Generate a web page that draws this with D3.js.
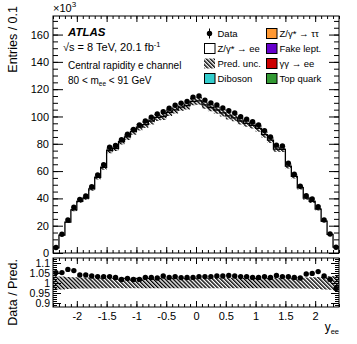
<!DOCTYPE html>
<html lang="en">
<head>
<meta charset="UTF-8">
<title>Central rapidity e channel</title>
<script src="https://d3js.org/d3.v7.min.js"></script>
<style>
    body { margin: 0; background: #fff; }
    svg { display: block; }
    text { font-family: "Liberation Sans", Arial, Helvetica, sans-serif; fill: #000; }
    .axis path { stroke: none; }
    .axis line { stroke: #000; stroke-width: 1; }
    .axis text { font-size: 11px; }
</style>
</head>
<body>
<div id="chart"></div>
<script>
// bin edges: 48 bins of 0.1 between -2.4 and 2.4
const binLow = d3.range(48).map(i => +(-2.4 + i * 0.1).toFixed(1));

// data entries (x10^3)
const dataVals = [4.0, 13.7, 24.2, 33.5, 39.3, 41.8, 48.6, 57.1, 64.7, 77.5, 78.8, 83.0,
    87.0, 90.5, 93.8, 96.7, 99.4, 101.8, 103.5, 106.0, 108.2, 109.8, 111.0, 114.2,
    115.0, 112.0, 110.0, 108.4, 106.2, 104.2, 102.5, 99.8, 98.0, 96.2, 93.8, 89.5,
    85.0, 79.0, 78.4, 65.7, 57.7, 49.0, 42.0, 39.6, 33.9, 24.2, 13.9, 4.2];

// data / prediction
const ratioVals = [1.052, 1.052, 1.068, 1.062, 1.040, 1.040, 1.035, 1.032, 1.032, 1.032, 1.028, 1.018,
    1.023, 1.018, 1.018, 1.028, 1.028, 1.025, 1.035, 1.028, 1.032, 1.027, 1.028, 1.028,
    1.032, 1.032, 1.032, 1.035, 1.035, 1.038, 1.035, 1.032, 1.032, 1.028, 1.028, 1.032,
    1.028, 1.038, 1.032, 1.032, 1.028, 1.025, 1.045, 1.048, 1.057, 1.035, 1.018, 0.973];

// relative prediction uncertainty
const uncVals = [0.034, 0.032, 0.030, 0.029, 0.028, 0.028, 0.027, 0.027, 0.026, 0.026, 0.026, 0.026,
    0.026, 0.026, 0.026, 0.026, 0.026, 0.026, 0.026, 0.026, 0.026, 0.026, 0.026, 0.026,
    0.026, 0.026, 0.026, 0.026, 0.026, 0.026, 0.026, 0.026, 0.026, 0.026, 0.026, 0.026,
    0.026, 0.026, 0.026, 0.027, 0.027, 0.028, 0.028, 0.029, 0.030, 0.032, 0.034, 0.036];

const yTicks = [0, 20, 40, 60, 80, 100, 120, 140, 160];
const rTicks = [0.9, 0.95, 1, 1.05, 1.1];
const xTicks = [-2, -1.5, -1, -0.5, 0, 0.5, 1, 1.5, 2];

const legendLeft = [
    { label: "Data", type: "data" },
    { label: "Z/\u03b3* \u2192 ee", type: "box", color: "#ffffff" },
    { label: "Pred. unc.", type: "hatch" },
    { label: "Diboson", type: "box", color: "#33cccc" }
];
const legendRight = [
    { label: "Z/\u03b3* \u2192 \u03c4\u03c4", color: "#ff9933" },
    { label: "Fake lept.", color: "#6600cc" },
    { label: "\u03b3\u03b3 \u2192 ee", color: "#cc0000" },
    { label: "Top quark", color: "#339933" }
];

const W = 357, H = 344;
const L = 53, R = 339, T = 16, B = 253, RT = 258, RB = 307;

const bins = binLow.map((lo, i) => {
    const pred = dataVals[i] / ratioVals[i];
    return { lo: lo, hi: +(lo + 0.1).toFixed(1), c: lo + 0.05, data: dataVals[i], ratio: ratioVals[i], pred: pred, unc: uncVals[i] };
});

const svg = d3.select("#chart").append("svg").attr("width", W).attr("height", H);

const defs = svg.append("defs");
defs.append("pattern")
    .attr("id", "hatch")
    .attr("patternUnits", "userSpaceOnUse")
    .attr("width", 2.8).attr("height", 2.8)
    .attr("patternTransform", "rotate(-45)")
    .append("line")
    .attr("x1", 0.7).attr("y1", 0).attr("x2", 0.7).attr("y2", 2.8)
    .attr("stroke", "#000").attr("stroke-width", 1.4);

defs.append("clipPath").attr("id", "clipMain")
    .append("rect").attr("x", L).attr("y", T).attr("width", R - L).attr("height", B - T);
defs.append("clipPath").attr("id", "clipRatio")
    .append("rect").attr("x", L).attr("y", RT).attr("width", R - L).attr("height", RB - RT);

const x = d3.scaleLinear().domain([-2.4, 2.4]).range([L, R]);
const y = d3.scaleLinear().domain([0, 173.6]).range([B, T]);
const yr = d3.scaleLinear().domain([0.88, 1.125]).range([RB, RT]);

// step path helper
function stepPts(vals) {
    const pts = [];
    bins.forEach((b, i) => {
        pts.push([x(b.lo), vals[i]]);
        pts.push([x(b.hi), vals[i]]);
    });
    return pts;
}

// ---------- main panel ----------
const main = svg.append("g").attr("clip-path", "url(#clipMain)");

const predPts = stepPts(bins.map(b => y(b.pred)));
const predArea = d3.area().x(d => d[0]).y0(B).y1(d => d[1]);
main.append("path").attr("d", predArea(predPts)).attr("fill", "#fff");

// uncertainty band
const bandPts = bins.flatMap(b => [
    { x: x(b.lo), y0: y(b.pred * (1 - b.unc)), y1: y(b.pred * (1 + b.unc)) },
    { x: x(b.hi), y0: y(b.pred * (1 - b.unc)), y1: y(b.pred * (1 + b.unc)) }
]);
main.append("path")
    .attr("d", d3.area().x(d => d.x).y0(d => d.y0).y1(d => d.y1)(bandPts))
    .attr("fill", "url(#hatch)");

const stepLine = d3.line().x(d => d[0]).y(d => d[1]);
main.append("path")
    .attr("d", stepLine([[x(-2.4), B]].concat(predPts, [[x(2.4), B]])))
    .attr("fill", "none").attr("stroke", "#000").attr("stroke-width", 1.3);

// data points
main.selectAll("line.err").data(bins).enter().append("line")
    .attr("x1", d => x(d.c)).attr("x2", d => x(d.c))
    .attr("y1", d => y(d.data + Math.sqrt(d.data * 1000) / 1000 * 3))
    .attr("y2", d => y(d.data - Math.sqrt(d.data * 1000) / 1000 * 3))
    .attr("stroke", "#000");
main.selectAll("circle.pt").data(bins).enter().append("circle")
    .attr("cx", d => x(d.c)).attr("cy", d => y(d.data)).attr("r", 2.7).attr("fill", "#000");

// ---------- ratio panel ----------
const ratio = svg.append("g").attr("clip-path", "url(#clipRatio)");
const rBand = bins.flatMap(b => [
    { x: x(b.lo), y0: yr(1 - b.unc), y1: yr(1 + b.unc) },
    { x: x(b.hi), y0: yr(1 - b.unc), y1: yr(1 + b.unc) }
]);
ratio.append("path")
    .attr("d", d3.area().x(d => d.x).y0(d => d.y0).y1(d => d.y1)(rBand))
    .attr("fill", "url(#hatch)");
ratio.selectAll("circle").data(bins).enter().append("circle")
    .attr("cx", d => x(d.c)).attr("cy", d => yr(d.ratio)).attr("r", 2.7).attr("fill", "#000");

// ---------- axes ----------
const xMinor = d3.range(-2.4, 2.401, 0.1).map(v => +v.toFixed(1));
const yMinor = d3.range(0, 171, 5);
const rMinor = d3.range(0.89, 1.121, 0.01).map(v => +v.toFixed(2));

function addAxis(axis, tx, ty) {
    return svg.append("g").attr("class", "axis").attr("transform", `translate(${tx},${ty})`).call(axis);
}

// main y
addAxis(d3.axisLeft(y).tickValues(yMinor).tickSize(-5).tickFormat(""), L, 0);
addAxis(d3.axisLeft(y).tickValues(yTicks).tickSize(-10).tickPadding(4).tickFormat(d3.format("d")), L, 0);
addAxis(d3.axisRight(y).tickValues(yMinor).tickSize(-5).tickFormat(""), R, 0);
addAxis(d3.axisRight(y).tickValues(yTicks).tickSize(-10).tickFormat(""), R, 0);
// x ticks on both panels
[[d3.axisTop, T], [d3.axisBottom, B], [d3.axisTop, RT], [d3.axisBottom, RB]].forEach(([ax, pos]) => {
    addAxis(ax(x).tickValues(xMinor).tickSize(-3).tickFormat(""), 0, pos);
    addAxis(ax(x).tickValues(xTicks).tickSize(-6).tickFormat(""), 0, pos);
});
addAxis(d3.axisBottom(x).tickValues(xTicks).tickSize(0).tickPadding(5).tickFormat(d => String(d)), 0, RB);
// ratio y
addAxis(d3.axisLeft(yr).tickValues(rMinor).tickSize(-4).tickFormat(""), L, 0);
addAxis(d3.axisLeft(yr).tickValues(rTicks).tickSize(-8).tickPadding(3).tickFormat(d => String(d)), L, 0)
    .selectAll("text").style("font-size", "10.5px");
addAxis(d3.axisRight(yr).tickValues(rMinor).tickSize(-4).tickFormat(""), R, 0);
addAxis(d3.axisRight(yr).tickValues(rTicks).tickSize(-8).tickFormat(""), R, 0);

// frames
svg.append("rect").attr("x", L).attr("y", T).attr("width", R - L).attr("height", B - T)
    .attr("fill", "none").attr("stroke", "#000");
svg.append("rect").attr("x", L).attr("y", RT).attr("width", R - L).attr("height", RB - RT)
    .attr("fill", "none").attr("stroke", "#000");

// axis titles
svg.append("text").attr("transform", "translate(17,6) rotate(-90)")
    .attr("text-anchor", "end").style("font-size", "12.5px").text("Entries / 0.1");
svg.append("text").attr("transform", `translate(17,${RT + 1}) rotate(-90)`)
    .attr("text-anchor", "end").style("font-size", "12.5px").text("Data / Pred.");
const xt = svg.append("text").attr("x", R).attr("y", 331).attr("text-anchor", "end").style("font-size", "12px");
xt.append("tspan").text("y");
xt.append("tspan").attr("dy", 3).style("font-size", "7.5px").text("ee");

const e3 = svg.append("text").attr("x", L).attr("y", 12).style("font-size", "11px");
e3.append("tspan").text("\u00d710");
e3.append("tspan").attr("dy", -5).style("font-size", "8px").text("3");

// labels
svg.append("text").attr("x", 68).attr("y", 36).style("font-size", "11.5px")
    .style("font-weight", "bold").style("font-style", "italic").text("ATLAS");
const rs = svg.append("text").attr("x", 63).attr("y", 51).style("font-size", "11px");
rs.append("tspan").text("\u221as = 8 TeV, 20.1 fb");
rs.append("tspan").attr("dy", -4).style("font-size", "7.5px").text("-1");
svg.append("text").attr("x", 68).attr("y", 69).style("font-size", "10px").text("Central rapidity e channel");
const mt = svg.append("text").attr("x", 68).attr("y", 84).style("font-size", "10px");
mt.append("tspan").text("80 < m");
mt.append("tspan").attr("dy", 2).style("font-size", "6.5px").text("ee");
mt.append("tspan").attr("dy", -2).text(" < 91 GeV");

// legend
const rowY = [33.5, 48.5, 63.5, 78.5];
const lg = svg.append("g");
legendLeft.forEach((d, i) => {
    const cy = rowY[i];
    if (d.type === "data") {
        lg.append("line").attr("x1", 209.5).attr("x2", 209.5).attr("y1", cy - 5).attr("y2", cy + 5).attr("stroke", "#000");
        lg.append("circle").attr("cx", 209.5).attr("cy", cy).attr("r", 2.7).attr("fill", "#000");
    } else if (d.type === "hatch") {
        lg.append("rect").attr("x", 204).attr("y", cy - 5).attr("width", 11).attr("height", 10).attr("fill", "url(#hatch)");
    } else {
        lg.append("rect").attr("x", 204.5).attr("y", cy - 5).attr("width", 10.5).attr("height", 10)
            .attr("fill", d.color).attr("stroke", "#000");
    }
    lg.append("text").attr("x", 217.5).attr("y", cy + 3.5).style("font-size", "9.5px").text(d.label);
});
legendRight.forEach((d, i) => {
    const cy = rowY[i];
    lg.append("rect").attr("x", 266.5).attr("y", cy - 5).attr("width", 10.5).attr("height", 10)
        .attr("fill", d.color).attr("stroke", "#000");
    lg.append("text").attr("x", 279.5).attr("y", cy + 3.5).style("font-size", "9.5px").text(d.label);
});
</script>
</body>
</html>
